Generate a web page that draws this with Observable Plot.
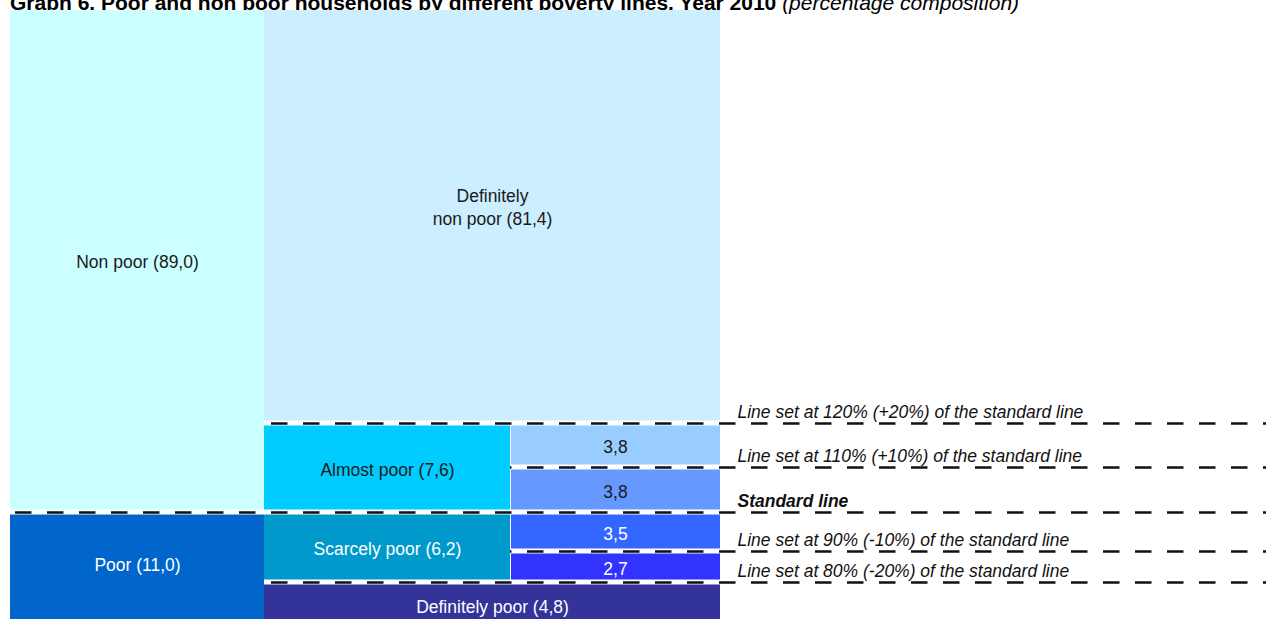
<!DOCTYPE html>
<html>
<head>
<meta charset="utf-8">
<script src="https://cdn.jsdelivr.net/npm/d3@7"></script>
<script src="https://cdn.jsdelivr.net/npm/@observablehq/plot@0.6"></script>
<style>
  html, body { margin: 0; padding: 0; background: #fff; }
  body { width: 1266px; height: 619px; overflow: hidden; position: relative; font-family: "Liberation Sans", Arial, sans-serif; }
  #title { position: absolute; left: 10px; top: -8px; font-weight: bold; font-size: 21px; line-height: 21px; white-space: nowrap; color: #000; }
  #title i { font-weight: normal; }
  #chart { position: absolute; left: 0; top: 0; }
</style>
</head>
<body>
<div id="title">Graph 6. Poor and non poor households by different poverty lines. Year 2010 <i>(percentage composition)</i></div>
<div id="chart"></div>
<script>
// ---- data ----
const mainGroups = ["Non poor", "Poor"];
const mainValues = [89.0, 11.0];
const detailGroups = ["Definitely\nnon poor", "Almost poor", "Scarcely poor", "Definitely poor"];
const detailValues = [81.4, 7.6, 6.2, 4.8];
const bandParents = ["Almost poor", "Almost poor", "Scarcely poor", "Scarcely poor"];
const bandValues = [3.8, 3.8, 3.5, 2.7];
const lineLabels = [
  "Line set at 120% (+20%) of the standard line",
  "Line set at 110% (+10%) of the standard line",
  "Standard line",
  "Line set at 90% (-10%) of the standard line",
  "Line set at 80% (-20%) of the standard line"
];
const fillColors = ["#ccffff", "#0066cc", "#cceeff", "#00ccff", "#0099cc", "#333399", "#99ccff", "#6699ff", "#3366ff", "#3333ff"];

// ---- build tables ----
const fmt = v => d3.format(".1f")(v).replace(".", ",");
const r1 = v => Math.round(v * 10) / 10;
const segs = [];
let c = 0;
mainGroups.forEach((g, i) => {
  const y1 = c; c = r1(c + mainValues[i]);
  segs.push({key: "m" + i, x1: 0, x2: 1, y1, y2: c, label: `${g} (${fmt(mainValues[i])})`});
});
const mainBounds = segs.slice(0, -1).map(d => d.y2);
c = 0;
const detailStart = {};
detailGroups.forEach((g, i) => {
  const hasBands = bandParents.includes(g);
  detailStart[g] = c;
  const y1 = c; c = r1(c + detailValues[i]);
  segs.push({key: "d" + i, x1: 1, x2: hasBands ? 2 : 3, y1, y2: c, label: `${g} (${fmt(detailValues[i])})`});
});
const detailBounds = segs.filter(d => d.key[0] === "d").slice(0, -1).map(d => d.y2);
c = detailStart[bandParents[0]];
const bandStart = c;
const bands = [];
bandValues.forEach((v, i) => {
  const y1 = c; c = r1(c + v);
  const s = {key: "b" + i, x1: 2, x2: 3, y1, y2: c, label: fmt(v)};
  bands.push(s); segs.push(s);
});
const lineYs = [bandStart, ...bands.map(d => d.y2)];
const lines = lineLabels.map((label, i) => {
  const y = lineYs[i];
  const xStart = mainBounds.includes(y) ? 0 : detailBounds.includes(y) ? 1 : 2;
  return {label, y, xStart, standard: xStart === 0};
});

// ---- scales ----
const xOpts = {type: "linear", domain: [0, 1, 2, 3, 4], range: [10, 264, 510, 720, 1266], axis: null};
const yOpts = {type: "linear", domain: [0, ...lineYs, 100], range: [7.5, 423, 467, 512, 551, 582, 628], axis: null};
const xs = Plot.scale({x: xOpts});
const ys = Plot.scale({y: yOpts});
// visual centre of each box, expressed back in data units
const cx = d => xs.invert((xs.apply(d.x1) + xs.apply(d.x2)) / 2);
const cy = d => ys.invert((ys.apply(d.y1) + ys.apply(d.y2)) / 2);

const keys = segs.map(d => d.key);
const colorOf = k => fillColors[keys.indexOf(k)];
const isDark = k => d3.lab(colorOf(k)).l > 60;
const dyTweak = {d0: -10, m1: -7};

const FS = 17.5;
const textMarks = segs.map(d => Plot.text([d], {
  x: cx, y: cy, text: "label",
  fill: isDark(d.key) ? "#1a1a1a" : "#ffffff",
  fontSize: FS, lineHeight: 1.35, dy: dyTweak[d.key] || 0
}));

const plot = Plot.plot({
  width: 1266,
  height: 619,
  x: xOpts,
  y: yOpts,
  color: {type: "ordinal", domain: keys, range: fillColors},
  style: {background: "transparent", fontFamily: "'Liberation Sans', Arial, sans-serif", overflow: "hidden"},
  marks: [
    Plot.rect(segs.filter(d => d.key[0] !== "b"), {x1: "x1", x2: "x2", y1: "y1", y2: "y2", fill: "key", insetTop: 2.5, insetBottom: 2.5}),
    Plot.rect(bands, {x1: "x1", x2: "x2", y1: "y1", y2: "y2", fill: "key", insetTop: 2.5, insetBottom: 2.5, insetLeft: 1}),
    Plot.ruleY(lines, {y: "y", x1: "xStart", x2: () => 4, stroke: "#111", strokeWidth: 2.5, strokeDasharray: "16.5,15.5"}),
    ...textMarks,
    Plot.text(lines.filter(d => !d.standard), {x: () => 3, y: "y", text: "label", textAnchor: "start", lineAnchor: "bottom", dx: 17, dy: -6, fontSize: FS, fontStyle: "italic", fill: "#111"}),
    Plot.text(lines.filter(d => d.standard), {x: () => 3, y: "y", text: "label", textAnchor: "start", lineAnchor: "bottom", dx: 17, dy: -6, fontSize: FS, fontStyle: "italic", fontWeight: "bold", fill: "#111"})
  ]
});
// align dash phase globally
plot.querySelectorAll('g[aria-label="rule"] line').forEach(l => {
  const x1 = +l.getAttribute("x1");
  l.style.strokeDashoffset = (((x1 - 15) % 32) + 32) % 32;
});
document.getElementById("chart").appendChild(plot);
</script>
</body>
</html>
